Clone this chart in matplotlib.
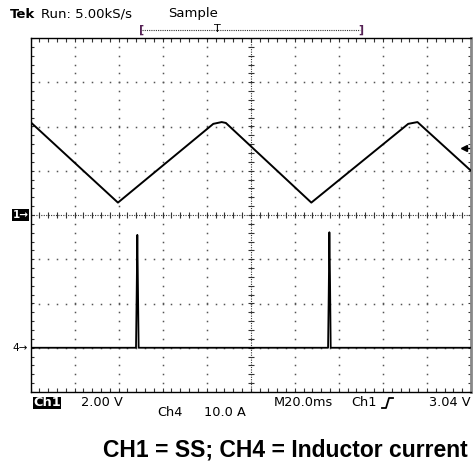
import matplotlib
matplotlib.use("Agg")
import matplotlib.pyplot as plt
import numpy as np
from matplotlib.lines import Line2D
from matplotlib.patches import Rectangle
import matplotlib.transforms as mtransforms

W, H = 473, 468
DPI = 100

# ---- data ----
ch1_time_ms = [0.0, 39.7, 83.0, 86.8, 88.7, 127.5, 171.5, 175.7, 200.0]
ch1_volts   = [4.20, 0.56, 4.12, 4.20, 4.16, 0.56, 4.12, 4.20, 2.00]

ch4_time_ms = [0.0, 47.9, 48.2, 48.5, 48.8, 49.1, 135.1, 135.4, 135.7, 136.0, 136.3, 200.0]
ch4_amps    = [0.0, 0.0, 12.0, 25.5, 13.0, 0.0, 0.0, 12.0, 26.1, 15.0, 0.0, 0.0]

trigger_level_v = 3.04
header_run = "Run: 5.00kS/s"
header_mode = "Sample"
ch1_scale = "2.00 V"
ch4_scale = "10.0 A"
timebase = "M20.0ms"
trig_src = "Ch1"
trig_val = "3.04 V"
caption = "CH1 = SS; CH4 = Inductor current"

# ---- layout ----
x0, x1, y0, y1 = 30.5, 471.0, 38.0, 392.0   # graticule box in pixels (top-left origin)
fig = plt.figure(figsize=(W / DPI, H / DPI), dpi=DPI)
fig.patch.set_facecolor("white")

def fx(px):
    return px / W

def fy(py):
    return 1 - py / H

ax = fig.add_axes([fx(x0), fy(y1), (x1 - x0) / W, (y1 - y0) / H])
ax.set_xlim(0, 200)
ax.set_ylim(-8, 8)
ax.set_xticks([])
ax.set_yticks([])
for s in ["left", "top", "bottom"]:
    ax.spines[s].set_color("black")
    ax.spines[s].set_linewidth(1.0)
ax.spines["right"].set_color("#888888")
ax.spines["right"].set_linewidth(2.0)

# ---- graticule ----
dotc = "#555555"
xdiv, ydiv = 20.0, 2.0
for k in range(1, 10):
    if k == 5:
        continue
    ys = np.arange(-8, 8.001, ydiv / 5)
    ax.plot([k * xdiv] * len(ys), ys, ls="none", marker="s", ms=1.1, mew=0, color=dotc, zorder=1)
for k in range(-3, 4):
    if k == 0:
        continue
    xs = np.arange(0, 200.001, xdiv / 5)
    ax.plot(xs, [k * ydiv] * len(xs), ls="none", marker="s", ms=1.1, mew=0, color=dotc, zorder=1)
ax.plot([0, 200], [0, 0], ls=(0, (1, 1.2)), lw=0.8, color="#333333", zorder=1)
ax.plot([100, 100], [-8, 8], ls=(0, (1, 1.2)), lw=0.8, color="#333333", zorder=1)
tx = np.arange(0, 200.001, xdiv / 5)
ty = np.arange(-8, 8.001, ydiv / 5)
ax.plot(tx, [0] * len(tx), ls="none", marker="|", ms=4, mew=0.8, color="#333333", zorder=1)
ax.plot([100] * len(ty), ty, ls="none", marker="_", ms=4, mew=0.8, color="#333333", zorder=1)
ax.plot(tx, [8 - 0.08] * len(tx), ls="none", marker="|", ms=2.5, mew=0.8, color="#333333", zorder=1)
ax.plot(tx, [-8 + 0.08] * len(tx), ls="none", marker="|", ms=2.5, mew=0.8, color="#333333", zorder=1)
ax.plot([0.6] * len(ty), ty, ls="none", marker="_", ms=2.5, mew=0.8, color="#333333", zorder=1)
ax.plot([199.4] * len(ty), ty, ls="none", marker="_", ms=2.5, mew=0.8, color="#333333", zorder=1)

# ---- traces ----
ax.plot(ch1_time_ms, ch1_volts, color="black", lw=1.4, zorder=3, solid_joinstyle="round")

ax4 = ax.twinx()
ax4.set_ylim(-10, 70)
ax4.set_yticks([])
for s in ax4.spines.values():
    s.set_visible(False)
ax4.plot(ch4_time_ms, ch4_amps, color="black", lw=1.3, zorder=3)

# trigger level arrow at right edge
bt = mtransforms.blended_transform_factory(ax.transAxes, ax.transData)
ax.plot([0.983], [trigger_level_v], marker="<", ms=5, color="black", transform=bt, clip_on=False, zorder=4)
ax.plot([0.983, 0.995], [trigger_level_v] * 2, color="black", lw=1, transform=bt, clip_on=False, zorder=4)

# ---- header ----
fs = 9.5
fig.text(fx(10), fy(14), "Tek", fontsize=fs, fontweight="bold", va="center", ha="left")
fig.text(fx(41), fy(14), header_run, fontsize=fs, va="center", ha="left")
fig.text(fx(168), fy(14), header_mode, fontsize=fs, va="center", ha="left")
fig.add_artist(Line2D([fx(142), fx(360)], [fy(30), fy(30)], color="#333333", lw=0.8, ls=(0, (1, 1))))
fig.text(fx(142), fy(30), "[", fontsize=8, color="#552255", ha="center", va="center", fontweight="bold")
fig.text(fx(361), fy(30), "]", fontsize=8, color="#552255", ha="center", va="center", fontweight="bold")
fig.text(fx(217), fy(29), "T", fontsize=8, ha="center", va="center")

fig.add_artist(Rectangle((fx(12), fy(221)), 17 / W, 12 / H, facecolor="black", edgecolor="none"))
fig.text(fx(20.5), fy(215), "1\u2192", fontsize=7.5, color="white", fontweight="bold", ha="center", va="center")
fig.text(fx(20.5), fy(348), "4\u2192", fontsize=7.5, color="black", ha="center", va="center")

# ---- bottom readouts ----
fb = 9.3
fig.add_artist(Rectangle((fx(33), fy(409)), 28 / W, 12 / H, facecolor="black", edgecolor="none"))
fig.text(fx(47), fy(403), "Ch1", fontsize=fb, color="white", fontweight="bold", ha="center", va="center")
fig.text(fx(81), fy(403), ch1_scale, fontsize=fb, ha="left", va="center")
fig.text(fx(274), fy(403), timebase, fontsize=fb, ha="left", va="center")
fig.text(fx(351), fy(403), trig_src, fontsize=fb, ha="left", va="center")
fig.add_artist(Line2D([fx(382), fx(386), fx(389), fx(393)], [fy(408), fy(408), fy(398), fy(398)], color="black", lw=1.3))
fig.text(fx(470), fy(403), trig_val, fontsize=fb, ha="right", va="center")
fig.text(fx(157), fy(413), "Ch4", fontsize=fb, ha="left", va="center")
fig.text(fx(204), fy(413), ch4_scale, fontsize=fb, ha="left", va="center")

# caption
fig.text(fx(285.5), fy(450), caption, fontsize=16.5, fontweight="bold", family="Liberation Sans", ha="center", va="center")

fig.savefig("out.png", dpi=DPI)
